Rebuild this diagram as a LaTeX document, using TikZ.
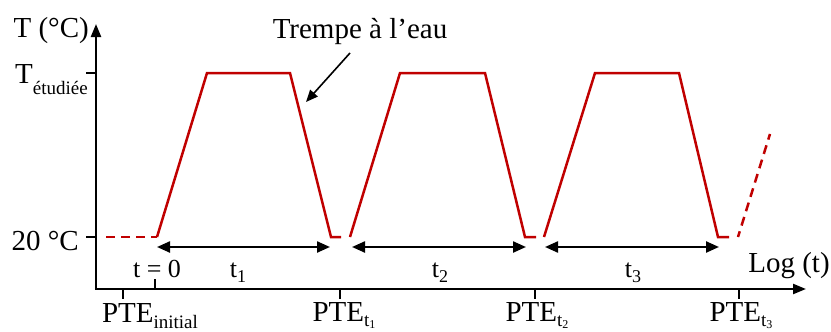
\documentclass[tikz,border=0pt]{standalone}
\usepackage{fontspec}
\setmainfont{Liberation Serif}
\usetikzlibrary{arrows.meta}
\newcommand\sbs[3]{\raisebox{-#2pt}{\fontsize{#1}{#1}\selectfont #3}}
\definecolor{cred}{RGB}{192,0,0}
\begin{document}
\begin{tikzpicture}[x=1pt,y=-1pt,
  lbl/.style={font=\fontsize{29}{32}\selectfont, inner sep=0pt},
  tlbl/.style={font=\fontsize{26}{30}\selectfont, inner sep=0pt},
  curve/.style={cred, line width=2.5pt, line join=miter},
  dcurve/.style={cred, line width=2.5pt, dash pattern=on 9pt off 6pt},
  axis/.style={black, line width=2.3pt, -{Triangle[length=13pt,width=10pt]}},
  tick/.style={black, line width=2.3pt},
  dim/.style={black, line width=2.3pt, {Triangle[length=13pt,width=11pt]}-{Triangle[length=13pt,width=11pt]}},
  arr/.style={black, line width=1.6pt, -{Triangle[length=12pt,width=10pt]}}]
\useasboundingbox (0,0) rectangle (831,332);
% axes
\coordinate (O) at (96,289);
\coordinate (Ytop) at (96,24);
\coordinate (Xend) at (806,289);
\draw[axis] (O) -- (Ytop);
\draw[axis] ([xshift=-1.15pt]O) -- (Xend);
% y ticks
\draw[tick] (86,73) -- (96,73);
\draw[tick] (86,237) -- (96,237);
% x ticks
\draw[tick] (123,289) -- (123,299);
\draw[tick] (155,289) -- (155,279);
\draw[tick] (340,289) -- (340,299);
\draw[tick] (535,289) -- (535,299);
\draw[tick] (739,289) -- (739,299);
% curve
\draw[dcurve] (106,237) -- (157,237);
\draw[curve] (157,237) -- (207,73) -- (290,73) -- (331,237) -- (341,237);
\draw[curve] (350,237) -- (400,73) -- (485,73) -- (525,237) -- (536,237);
\draw[curve] (544,237) -- (595,73) -- (679,73) -- (718,237) -- (729,237);
\draw[dcurve, dash phase=3pt] (738,237) -- (770,134);
% duration arrows
\coordinate (a1) at (157,247); \coordinate (b1) at (330,247);
\coordinate (a2) at (352,247); \coordinate (b2) at (526,247);
\coordinate (a3) at (545,247); \coordinate (b3) at (719,247);
\draw[dim] (a1) -- (b1);
\draw[dim] (a2) -- (b2);
\draw[dim] (a3) -- (b3);
% labels
\node[lbl, anchor=base east] (Ty) at (89,37) {T (°C)};
\node[lbl, anchor=base west] (Tet) at (15,83) {T\sbs{19}{11}{étudiée}};
\node[lbl, anchor=base east] (T20) at (79,250) {20 °C};
\node[tlbl, anchor=base] (t0) at (157,277) {t = 0};
\node[tlbl, anchor=base] (t1) at (238,277) {t\sbs{18}{5}{1}};
\node[tlbl, anchor=base] (t2) at (440,277) {t\sbs{18}{5}{2}};
\node[tlbl, anchor=base] (t3) at (633,277) {t\sbs{18}{5}{3}};
\node[lbl, anchor=base] (logt) at (789,272) {Log (t)};
\node[lbl, anchor=base] (P0) at (150,322) {PTE\sbs{19}{6}{initial}};
\node[lbl, anchor=base] (P1) at (344,321) {PTE\sbs{19}{5}{t\sbs{12}{2}{1}}};
\node[lbl, anchor=base] (P2) at (537,321) {PTE\sbs{19}{5}{t\sbs{12}{2}{2}}};
\node[lbl, anchor=base] (P3) at (741,321) {PTE\sbs{19}{5}{t\sbs{12}{2}{3}}};
\node[lbl, anchor=base] (tr) at (360,38) {Trempe à l’eau};
\coordinate (trs) at (350,53);
\coordinate (tre) at (306,102);
\draw[arr] (trs) -- (tre);
\end{tikzpicture}
\end{document}
